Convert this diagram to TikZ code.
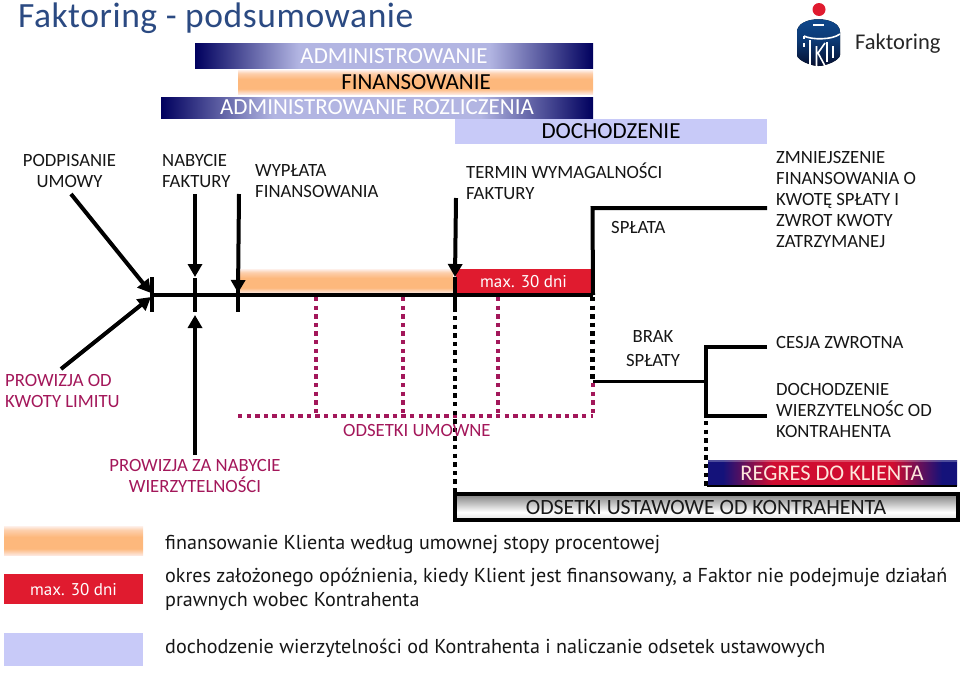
\documentclass[tikz,border=0pt]{standalone}
\usepackage{fontspec}
\setmainfont{Carlito}
\newfontfamily\bodyf{PT Sans}
\usetikzlibrary{arrows.meta}
\definecolor{navy}{HTML}{00005E}
\definecolor{lilac}{HTML}{B2B5E2}
\definecolor{peri}{HTML}{C8CAF8}
\definecolor{orng}{HTML}{FDB87C}
\definecolor{pale}{HTML}{FDE6DC}
\definecolor{redbar}{HTML}{E01B2F}
\definecolor{magn}{HTML}{A3175A}
\definecolor{titleb}{HTML}{2B4A82}
\definecolor{txt}{HTML}{161616}
\definecolor{logotop}{HTML}{0F4A90}
\definecolor{logobot}{HTML}{050F30}
\definecolor{regred}{HTML}{D00C30}
\definecolor{regblue}{HTML}{14127A}
% the box of a shaded path spans 25bp to 75bp of the shading
\pgfdeclarehorizontalshading{adminsh}{100bp}{color(0bp)=(navy);color(25bp)=(navy);color(38bp)=(lilac);color(62bp)=(lilac);color(75bp)=(navy);color(100bp)=(navy)}
\pgfdeclareverticalshading{finsh}{100bp}{color(0bp)=(pale);color(25bp)=(pale);color(30bp)=(orng!45!pale);color(36bp)=(orng);color(56bp)=(orng);color(68bp)=(orng!50!pale);color(75bp)=(pale!60!white);color(100bp)=(pale)}
\pgfdeclarehorizontalshading{regsh}{100bp}{color(0bp)=(regblue);color(25bp)=(regblue);color(28bp)=(regblue);color(38bp)=(regred);color(62bp)=(regred);color(72bp)=(regblue);color(75bp)=(regblue);color(100bp)=(regblue)}
\pgfdeclareverticalshading{ustsh}{100bp}{color(0bp)=(black!12);color(25bp)=(black!12);color(40bp)=(white);color(75bp)=(black!50);color(100bp)=(black!50)}
\pgfdeclareverticalshading{logosh}{100bp}{color(0bp)=(logobot);color(25bp)=(logobot);color(50bp)=(logotop!70!logobot);color(75bp)=(logotop);color(100bp)=(logotop)}
\tikzset{
 caplab/.style={font=\fontsize{18.7}{21}\selectfont,text=txt,align=left,inner sep=0pt,anchor=north west},
 capc/.style={caplab,align=center,anchor=north},
 capm/.style={capc,text=magn},
 bodylab/.style={font=\bodyf\fontsize{20.1}{24}\selectfont,text=txt,align=left,inner sep=0pt,anchor=base west},
 barlab/.style={font=\fontsize{23}{25}\selectfont,inner sep=0pt},
 heavy/.style={draw=black,line width=4pt},
 arrowline/.style={heavy,-{Triangle[length=13pt,width=14pt]}},
 maglink/.style={draw=magn,line width=4.6pt,dash pattern=on 4.4pt off 4.2pt},
 blklink/.style={draw=black,line width=4.6pt,dash pattern=on 4.4pt off 4.2pt},
 adminbar/.style={shading=adminsh},
 finbar/.style={shading=finsh},
}
\begin{document}
\begin{tikzpicture}[x=1pt,y=-1pt]
\useasboundingbox (0,0) rectangle (960,672);
% title
\node[font=\addfontfeature{LetterSpace=1.6}\fontsize{35.5}{38}\selectfont,text=titleb,inner sep=0pt,anchor=base west] (title) at (18,27) {Faktoring - podsumowanie};
% logo
\fill[shading=logosh] (797,32) .. controls (797,15) and (840,15) .. (840,32) -- (840,55) .. controls (840,60) and (826,66) .. (818.5,66) .. controls (811,66) and (797,60) .. (797,55) -- cycle;
\fill[redbar] (819,9.5) circle (6.5);
\draw[white,line width=1.5pt] (813,25) -- (824,25);
\draw[white,line width=1.6pt] (804,36) .. controls (812,40) and (832,40) .. (840,34);
\draw[white,line width=1.4pt] (804,36) -- (804,39) (810,40) -- (810,66);
\draw[white,line width=2pt] (803.5,43) -- (803.5,47);
\draw[white,line width=1.6pt] (816.5,46) -- (816.5,66) (825,43) -- (818,53) -- (825,66);
\draw[white,line width=1.4pt] (827,42) -- (827,62);
\draw[white,line width=2pt] (833,46) -- (833,58);
\node[font=\fontsize{22.5}{26}\selectfont,text=black!85,inner sep=0pt,anchor=base west] (logotxt) at (855,49) {Faktoring};
% top bars
\path[adminbar] (195,43) rectangle (593,68);
\node[barlab,text=white] (ladm) at (394,56) {ADMINISTROWANIE};
\path[finbar] (238,70) rectangle (593,94);
\node[barlab,text=black] (lfin) at (416,82) {FINANSOWANIE};
\path[adminbar] (161,97) rectangle (593,118);
\node[barlab,text=white] (lroz) at (377,107) {ADMINISTROWANIE ROZLICZENIA};
\fill[peri] (455,119) rectangle (767,144);
\node[barlab,text=black] (ldoch) at (611,131) {DOCHODZENIE};
% labels top
\node[capc] (podp) at (69.5,154) {PODPISANIE\\UMOWY};
\node[caplab] (naby) at (162,154) {NABYCIE\\FAKTURY};
\node[caplab] (wypl) at (255,164) {WYPŁATA\\FINANSOWANIA};
\node[caplab] (term) at (466,163) {TERMIN WYMAGALNOŚCI\\FAKTURY};
\node[caplab] (spl) at (611,221) {SPŁATA};
\node[caplab] (zmn) at (776,151) {ZMNIEJSZENIE\\FINANSOWANIA O\\KWOTĘ SPŁATY I\\ZWROT KWOTY\\ZATRZYMANEJ};
% timeline bars
\path[finbar] (240,269) rectangle (453,293);
\fill[redbar] (456,269) rectangle (592,293);
\node[font=\bodyf\fontsize{17}{20}\selectfont,text=white,inner sep=0pt] (m1) at (523.5,282) {max. 30 dni};
% coordinates
\coordinate (t0) at (152,295);
\coordinate (t1) at (195,295);
\coordinate (t2) at (238,295);
\coordinate (t3) at (316,295);
\coordinate (t4) at (403,295);
\coordinate (t5) at (455,295);
\coordinate (t6) at (498,295);
\coordinate (t7) at (593,295);
\coordinate (sa) at (71,194);
\coordinate (sb) at (195,194);
\coordinate (sc) at (239,194);
\coordinate (sd) at (456,198);
\coordinate (se) at (61,369);
\coordinate (sf) at (195,455);
% dotted magenta
\draw[maglink] (238,416) -- (593,416);
\foreach \tt in {t3,t4,t6,t7} \draw[maglink] (\tt) ++(0,2) -- (\tt |- 0,414);
% dotted black
\draw[blklink] (455,316) -- (455,492);
\draw[blklink] (592.5,297) -- (592.5,380);
% main axis
\draw[heavy] (t0) -- (t7);
\draw[heavy] (t0) ++(0,-18) -- ++(0,35);
\draw[heavy] (t1) ++(0,-17) -- ++(0,34);
\draw[heavy] (t2) ++(0,-8) -- ++(0,25);
\draw[heavy] (t5) ++(0,-18) -- ++(0,35);
\draw[arrowline] (sa) -- (151,293);
\draw[arrowline] (sb) -- (195,277);
\draw[arrowline] (sc) -- (238,293);
\draw[arrowline] (sd) -- (455,277);
\draw[arrowline] (se) -- (151,297);
\draw[arrowline] (sf) -- (195,315);
% payment branch
\draw[heavy] (t7) -- (592.5,208) -- (767,208);
\draw[draw=black,line width=3pt] (593,381) -- (706,381);
\draw[heavy] (767,347) -- (706,347) -- (706,416) -- (767,416);
\draw[blklink] (706,421) -- (706,486);
% labels lower
\node[capc] (brak) at (653,330) {BRAK\\[3.5pt]SPŁATY};
\node[caplab] (cesja) at (776,336) {CESJA ZWROTNA};
\node[caplab] (doch2) at (776,383) {DOCHODZENIE\\WIERZYTELNOŚC OD\\KONTRAHENTA};
\node[caplab,text=magn] (prow1) at (5,374) {PROWIZJA OD\\KWOTY LIMITU};
\node[capm] (prow2) at (195,459) {PROWIZJA ZA NABYCIE\\WIERZYTELNOŚCI};
\node[caplab,text=magn] (ods) at (343,424) {ODSETKI UMOWNE};
% regres
\path[shading=regsh] (708,460) rectangle (957,485);
\draw[white,opacity=.25,line width=1.5pt] (708,461) -- (957,461);
\draw[black,line width=2.5pt] (707,486) -- (957,486);
\node[barlab,font=\fontsize{22.4}{25}\selectfont,text=pale] (regres) at (832,473) {REGRES DO KLIENTA};
% ustawowe
\path[shading=ustsh,draw=black,line width=3.5pt] (455,494) rectangle (958,520);
\node[barlab,font=\fontsize{21.8}{25}\selectfont,text=black!90] (ust) at (706,507) {ODSETKI USTAWOWE OD KONTRAHENTA};
% legend
\path[finbar] (4,526) rectangle (143,555);
\fill[redbar] (4,574) rectangle (143,604);
\node[font=\bodyf\fontsize{17}{20}\selectfont,text=white,inner sep=0pt] (m2) at (73.5,590) {max. 30 dni};
\fill[peri] (4,633) rectangle (143,666);
\node[bodylab] (b1) at (165,549) {finansowanie Klienta według umownej stopy procentowej};
\node[bodylab,anchor=north west] (b2) at (165,567.5) {okres założonego opóźnienia, kiedy Klient jest finansowany, a Faktor nie podejmuje działań\\prawnych wobec Kontrahenta};
\node[bodylab] (b3) at (165,653) {dochodzenie wierzytelności od Kontrahenta i naliczanie odsetek ustawowych};
\end{tikzpicture}
\end{document}
